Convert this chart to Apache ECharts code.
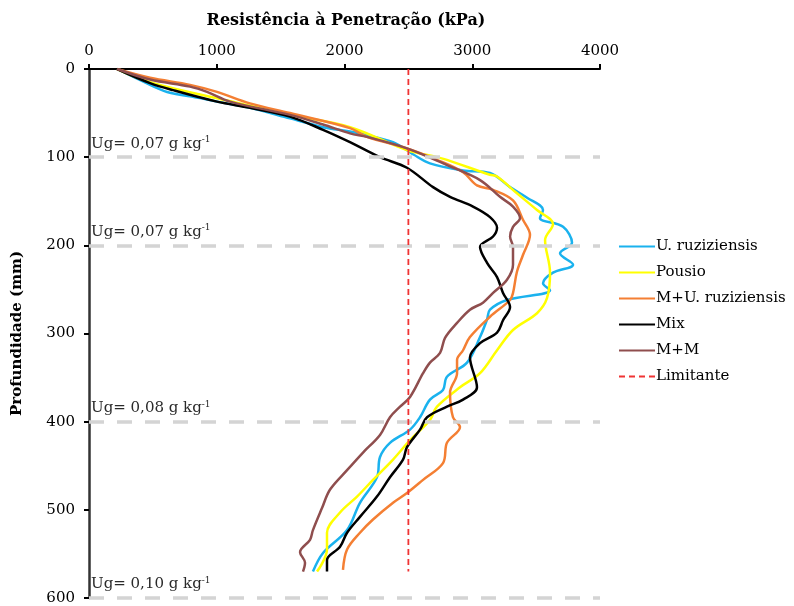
<!DOCTYPE html>
<html>
<head>
<meta charset="utf-8">
<script src="https://cdn.jsdelivr.net/npm/echarts@6/dist/echarts.min.js"></script>
<style>html,body{margin:0;padding:0;background:#fff}#c{width:794px;height:606px}</style>
</head>
<body>
<div id="c"></div>
<script>
// [resistance kPa, depth mm]
const uRuziziensis = [[220,0],[478,18],[611,26],[869,33],[1002,37],[1260,44],[1573,56],[1832,66],[2043,71],[2176,75],[2380,83],[2489,92],[2540,97],[2669,107],[2928,115],[3139,118],[3296,134],[3429,146],[3554,160],[3530,169],[3711,179],[3781,197],[3687,209],[3789,222],[3632,231],[3554,243],[3609,251],[3272,262],[3139,273],[3116,284],[3061,304],[2959,333],[2802,349],[2771,364],[2669,375],[2591,395],[2513,409],[2356,424],[2278,440],[2254,463],[2121,492],[2020,523],[1832,549],[1753,570]];
const pousio = [[220,0],[478,15],[869,29],[1182,39],[1573,52],[2043,66],[2489,92],[2724,100],[2802,103],[3139,120],[3194,122],[3350,141],[3507,160],[3632,176],[3570,194],[3609,231],[3585,260],[3507,277],[3319,296],[3194,319],[3061,345],[2904,361],[2724,383],[2669,398],[2513,421],[2380,443],[2223,466],[2098,485],[1965,503],[1863,526],[1863,545],[1785,570]];
const mUruziziensis = [[220,0],[478,10],[791,18],[1002,26],[1260,39],[1573,50],[2043,67],[2176,77],[2489,90],[2724,103],[2928,117],[3037,132],[3163,137],[3319,149],[3397,171],[3452,188],[3397,211],[3350,230],[3319,254],[3296,262],[3139,281],[2982,304],[2928,319],[2881,330],[2881,345],[2826,367],[2849,395],[2904,406],[2802,424],[2771,447],[2615,466],[2489,481],[2380,492],[2223,511],[2121,526],[2020,545],[1988,568]];
const mix = [[220,0],[478,16],[658,24],[1002,37],[1260,44],[1573,54],[1832,69],[2043,83],[2278,100],[2489,112],[2693,134],[2826,145],[3006,156],[3139,168],[3194,180],[3163,190],[3061,202],[3116,220],[3194,236],[3241,254],[3296,270],[3241,285],[3194,299],[3061,311],[2982,327],[3037,361],[2928,375],[2802,383],[2646,395],[2591,409],[2489,429],[2458,443],[2356,463],[2254,485],[2121,508],[2020,526],[1965,542],[1863,557],[1863,570]];
const mm = [[220,0],[478,12],[791,20],[924,26],[1104,37],[1573,52],[1832,63],[2043,73],[2176,77],[2489,90],[2802,109],[3061,126],[3217,145],[3319,156],[3374,169],[3319,179],[3296,190],[3319,202],[3319,222],[3272,239],[3163,254],[3084,265],[2982,273],[2881,288],[2787,305],[2748,322],[2669,333],[2615,345],[2513,372],[2435,383],[2356,395],[2278,415],[2145,435],[2020,455],[1887,477],[1824,498],[1753,523],[1730,534],[1652,548],[1691,560],[1675,570]];
const limitante = [[2500,0],[2500,570]];
const ugDepths = [100, 200, 400, 600];
const ugLabels = ['0,07', '0,07', '0,08', '0,10'];
const xTicks = {min: 0, max: 4000, interval: 1000};
const yTicks = {min: 0, max: 600, interval: 100};

const FONT = 'DejaVu Serif';
const chart = echarts.init(document.getElementById('c'), null, {renderer: 'canvas'});

function lineSeries(name, data, color) {
  return {name, type: 'line', data, smooth: 0.35, symbol: 'none', showSymbol: false,
    lineStyle: {color, width: 2.5}, itemStyle: {color}, z: 3};
}

const ugMarks = ugDepths.map((d, i) => ({
  yAxis: d,
  label: {
    show: true, position: 'insideStartTop', distance: [2, 5],
    formatter: '{a|Ug= ' + ugLabels[i] + ' g kg}{s|-1}',
    rich: {
      a: {fontFamily: FONT, fontSize: 15, color: '#2a2a2a'},
      s: {fontFamily: FONT, fontSize: 9, color: '#2a2a2a', padding: [0, 0, 8, 0]}
    }
  }
}));

chart.setOption({
  animation: false,
  textStyle: {fontFamily: FONT},
  title: {
    text: 'Resistência à Penetração (kPa)', left: 341, top: 8, textAlign: 'center',
    textStyle: {fontFamily: FONT, fontSize: 16, fontWeight: 'bold', color: '#000'}
  },
  grid: {left: 89, right: 194, top: 69, bottom: 8, containLabel: false},
  legend: {
    orient: 'vertical', left: 613, top: 234, itemWidth: 36, itemHeight: 14, itemGap: 11,
    itemStyle: {opacity: 0},
    textStyle: {fontFamily: FONT, fontSize: 15, color: '#000', padding: [0, 0, 0, -4]},
    data: ['U. ruziziensis', 'Pousio', 'M+U. ruziziensis', 'Mix', 'M+M', 'Limitante']
  },
  xAxis: {
    type: 'value', position: 'top', min: xTicks.min, max: xTicks.max, interval: xTicks.interval,
    axisLine: {show: true, lineStyle: {color: '#000', width: 2}},
    axisTick: {show: true, inside: false, length: 5, lineStyle: {color: '#000', width: 2}},
    axisLabel: {fontFamily: FONT, fontSize: 15, color: '#000', margin: 10, formatter: v => String(v)},
    splitLine: {show: false}
  },
  yAxis: {
    type: 'value', inverse: true, min: yTicks.min, max: yTicks.max, interval: yTicks.interval,
    name: 'Profundidade (mm)', nameLocation: 'middle', nameGap: 64, nameRotate: 90,
    nameTextStyle: {fontFamily: FONT, fontSize: 15, fontWeight: 'bold', color: '#000'},
    axisLine: {show: true, lineStyle: {color: '#333', width: 2.5}},
    axisTick: {show: true, inside: false, length: 5, lineStyle: {color: '#000', width: 2}},
    axisLabel: {fontFamily: FONT, fontSize: 15, color: '#000', margin: 14, formatter: v => String(v)},
    splitLine: {show: false}
  },
  series: [
    {
      name: 'Ug', type: 'line', data: [], symbol: 'none', z: 5,
      markLine: {
        silent: true, symbol: ['none', 'none'], z: 5,
        lineStyle: {color: '#d4d4d4', width: 3.5, type: [15, 13]},
        data: ugMarks
      }
    },
    lineSeries('U. ruziziensis', uRuziziensis, '#1ab2ee'),
    lineSeries('Pousio', pousio, '#ffff00'),
    lineSeries('M+U. ruziziensis', mUruziziensis, '#f47f33'),
    lineSeries('Mix', mix, '#000000'),
    lineSeries('M+M', mm, '#8f4e4e'),
    {
      name: 'Limitante', type: 'line', data: limitante, symbol: 'none', z: 6,
      lineStyle: {color: '#f03434', width: 1.8, type: [6, 4]}, itemStyle: {color: '#f03434'}
    }
  ]
});
</script>
</body>
</html>
